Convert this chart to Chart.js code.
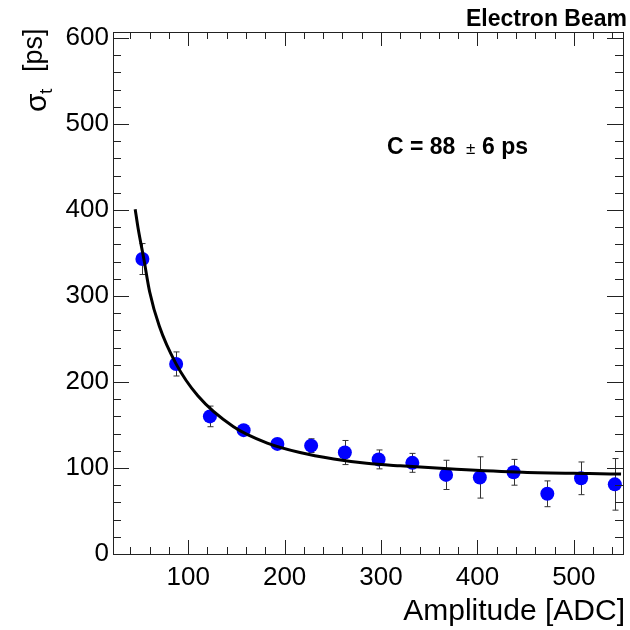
<!DOCTYPE html>
<html lang="en">
<head>
<meta charset="utf-8">
<title>Electron Beam | time resolution vs amplitude</title>
<script src="https://cdn.jsdelivr.net/npm/chart.js@4.4.1/dist/chart.umd.min.js"></script>
<style>
  body { margin: 0; background: #fff; }
  #chart { display: block; }
</style>
</head>
<body>
<canvas id="chart" width="630" height="630"></canvas>
<script>
  /* Measured points: amplitude bin centres, sigma_t and its error (ps) */
  const amplitude = [52.5, 87.5, 122.5, 157.5, 192.5, 227.5, 262.5, 297.5, 332.5, 367.5, 402.5, 437.5, 472.5, 507.5, 542.5];
  const sigmaT    = [343, 221, 160, 144, 128, 126, 118, 110, 106, 92, 89, 95, 70, 88, 81];
  const sigmaErr  = [18, 14, 12, 5, 4, 8, 14, 11, 11, 17, 24, 15, 15, 19, 30];

  /* Fit curve */
  const fitAmplitude = [45, 48, 54, 60, 70, 87, 110, 147, 182, 216, 251, 285, 320, 378, 447, 516, 549];
  const fitSigma     = [401, 379, 343, 305, 265, 222, 184, 148, 129, 118, 110.5, 105.5, 102.5, 98.5, 95, 93.5, 93];

  /* Axis tick labels */
  const xTicks = [100, 200, 300, 400, 500];
  const yTicks = [0, 100, 200, 300, 400, 500, 600];

  const FONT = "'Liberation Sans', Arial, Helvetica, sans-serif";

  /* Error bars under the markers, ROOT style frame with inner ticks, labels */
  const rootFrame = {
    id: 'rootFrame',
    beforeDatasetsDraw(chart) {
      const ctx = chart.ctx;
      const xs = chart.scales.x, ys = chart.scales.y;
      ctx.save();
      ctx.strokeStyle = '#333';
      ctx.lineWidth = 1;
      amplitude.forEach(function (a, i) {
        const px = Math.round(xs.getPixelForValue(a)) + 0.5;
        const top = ys.getPixelForValue(sigmaT[i] + sigmaErr[i]);
        const bot = ys.getPixelForValue(sigmaT[i] - sigmaErr[i]);
        ctx.beginPath();
        ctx.moveTo(px, top); ctx.lineTo(px, bot);
        ctx.moveTo(px - 3, top); ctx.lineTo(px + 3, top);
        ctx.moveTo(px - 3, bot); ctx.lineTo(px + 3, bot);
        ctx.stroke();
      });
      ctx.restore();
    },
    afterDraw(chart) {
      const ctx = chart.ctx;
      const a = chart.chartArea;
      const xs = chart.scales.x, ys = chart.scales.y;

      ctx.save();
      ctx.strokeStyle = '#222';
      ctx.lineWidth = 1;
      ctx.strokeRect(Math.round(a.left) + 0.5, Math.round(a.top) + 0.5,
                     Math.round(a.right - a.left), Math.round(a.bottom - a.top));

      // ticks inside the frame on all four sides
      ctx.beginPath();
      for (let v = 40; v <= xs.max; v += 20) {
        const px = Math.round(xs.getPixelForValue(v)) + 0.5;
        const len = v % 100 === 0 ? 14 : 7;
        ctx.moveTo(px, a.bottom); ctx.lineTo(px, a.bottom - len);
        ctx.moveTo(px, a.top); ctx.lineTo(px, a.top + len);
      }
      for (let v = 0; v <= ys.max; v += 20) {
        const py = Math.round(ys.getPixelForValue(v)) + 0.5;
        const len = v % 100 === 0 ? 16 : 8;
        ctx.moveTo(a.left, py); ctx.lineTo(a.left + len, py);
        ctx.moveTo(a.right, py); ctx.lineTo(a.right - len, py);
      }
      ctx.stroke();

      ctx.fillStyle = '#000';
      ctx.textBaseline = 'alphabetic';

      // header
      ctx.font = 'bold 23px ' + FONT;
      ctx.textAlign = 'right';
      ctx.fillText('Electron Beam', 627, 26);

      // fit result
      ctx.textAlign = 'left';
      ctx.font = 'bold 23px ' + FONT;
      ctx.fillText('C = 88', 387, 154);
      ctx.font = '17px ' + FONT;
      ctx.fillText('\u00b1', 466, 154);
      ctx.font = 'bold 23px ' + FONT;
      ctx.fillText('6 ps', 482, 154);

      // x title
      ctx.font = '30px ' + FONT;
      ctx.textAlign = 'right';
      ctx.fillText('Amplitude [ADC]', 625, 620);

      // y title, rotated, ends at the top of the frame
      ctx.translate(45, 112);
      ctx.rotate(-Math.PI / 2);
      ctx.textAlign = 'left';
      ctx.font = '30px ' + FONT;
      ctx.fillText('\u03c3', 0, 1);
      ctx.font = '19px ' + FONT;
      ctx.fillText('t', 18, 7);
      ctx.font = '27px ' + FONT;
      ctx.fillText('[ps]', 40, -3);
      ctx.restore();
    }
  };

  const chart = new Chart(document.getElementById('chart'), {
    type: 'scatter',
    data: {
      datasets: [
        {
          label: 'fit',
          data: fitAmplitude.map((x, i) => ({ x: x, y: fitSigma[i] })),
          showLine: true,
          borderColor: '#000',
          borderWidth: 3,
          pointRadius: 0,
          cubicInterpolationMode: 'monotone'
        },
        {
          label: 'data',
          data: amplitude.map((x, i) => ({ x: x, y: sigmaT[i] })),
          backgroundColor: '#0000ff',
          borderWidth: 0,
          pointRadius: 7
        }
      ]
    },
    options: {
      responsive: false,
      animation: false,
      events: [],
      layout: { padding: { top: 32, right: 6, left: 0, bottom: 0 } },
      plugins: {
        legend: { display: false },
        tooltip: { enabled: false }
      },
      scales: {
        x: {
          type: 'linear',
          min: 22,
          max: 551,
          grid: { display: false, drawTicks: false },
          border: { display: false },
          afterBuildTicks: function (scale) {
            scale.ticks = xTicks.map(v => ({ value: v }));
          },
          afterFit: function (scale) { scale.height = 76; },
          ticks: {
            color: '#000',
            padding: 8,
            maxRotation: 0,
            font: { family: FONT, size: 26 }
          }
        },
        y: {
          type: 'linear',
          min: 0,
          max: 607,
          grid: { display: false, drawTicks: false },
          border: { display: false },
          afterBuildTicks: function (scale) {
            scale.ticks = yTicks.map(v => ({ value: v }));
          },
          afterFit: function (scale) { scale.width = 113; },
          ticks: {
            color: '#000',
            padding: 4,
            font: { family: FONT, size: 26 }
          }
        }
      }
    },
    plugins: [rootFrame]
  });
</script>
</body>
</html>
